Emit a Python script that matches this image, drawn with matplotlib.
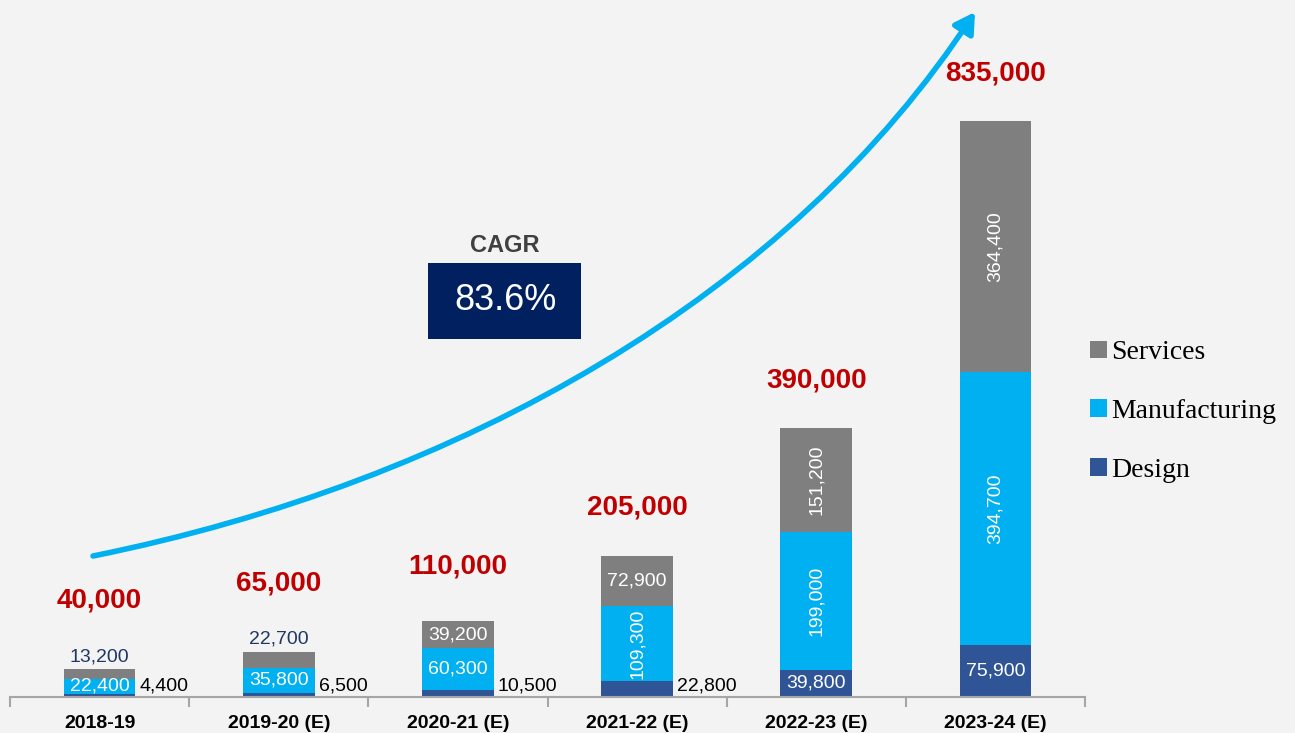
import numpy as np
import matplotlib
matplotlib.use("Agg")
import matplotlib.pyplot as plt
from matplotlib.patches import FancyArrowPatch, Rectangle
from matplotlib.path import Path

years = ["2018-19", "2019-20 (E)", "2020-21 (E)", "2021-22 (E)", "2022-23 (E)", "2023-24 (E)"]
design = [4400, 6500, 10500, 22800, 39800, 75900]
manufacturing = [22400, 35800, 60300, 109300, 199000, 394700]
services = [13200, 22700, 39200, 72900, 151200, 364400]
cagr = "83.6%"

c_serv = "#7f7f7f"
c_manu = "#00b0f0"
c_des = "#2f5597"

plt.rcParams["font.family"] = ["Liberation Sans", "DejaVu Sans"]

W, H = 1295, 733
fig = plt.figure(figsize=(W / 100, H / 100), dpi=100)
fig.patch.set_facecolor("#f3f3f3")

ax = fig.add_axes([10 / W, 36 / H, 1075 / W, 697 / H])
ax.set_facecolor("none")

x = np.arange(len(years))
design = np.array(design)
manufacturing = np.array(manufacturing)
services = np.array(services)
totals = design + manufacturing + services
bw = 0.4

b1 = ax.bar(x, design, bw, color=c_des, label="Design")
b2 = ax.bar(x, manufacturing, bw, bottom=design, color=c_manu, label="Manufacturing")
b3 = ax.bar(x, services, bw, bottom=design + manufacturing, color=c_serv, label="Services")

ax.set_xlim(-0.5, len(years) - 0.5)
ax.set_ylim(0, 1010000)

# segment labels
for i in range(len(years)):
    d, m, s = design[i], manufacturing[i], services[i]
    # design
    if d < 30000:
        ax.annotate(f"{d:,}", (x[i] + bw / 2, 0), xytext=(3, 2), textcoords="offset points",
                    ha="left", va="bottom", fontsize=14, color="black")
    else:
        ax.text(x[i], d / 2, f"{d:,}", ha="center", va="center", fontsize=14, color="white")
    # manufacturing
    rot = 90 if m > 100000 else 0
    ax.text(x[i], d + m / 2, f"{m:,}", ha="center", va="center", fontsize=14,
            color="white", rotation=rot)
    # services
    if s < 30000:
        ax.annotate(f"{s:,}", (x[i], totals[i]), xytext=(0, 3), textcoords="offset points",
                    ha="center", va="bottom", fontsize=14, color="#1f3864")
    else:
        rot = 90 if s > 100000 else 0
        ax.text(x[i], d + m + s / 2, f"{s:,}", ha="center", va="center", fontsize=14,
                color="white", rotation=rot)
    # total
    off = 40 if s < 30000 else (30 if totals[i] < 150000 else 25)
    ax.annotate(f"{totals[i]:,}", (x[i], totals[i]), xytext=(0, off), textcoords="offset points",
                ha="center", va="bottom", fontsize=20, fontweight="bold", color="#c00000")

# axes styling
for sp in ["top", "right", "left"]:
    ax.spines[sp].set_visible(False)
ax.spines["bottom"].set_color("#a6a6a6")
ax.spines["bottom"].set_linewidth(1.5)
ax.set_yticks([])
ax.set_xticks(x)
ax.set_xticklabels(years, fontsize=14, fontweight="bold")
ax.tick_params(axis="x", which="major", length=0, pad=13)
ax.set_xticks(np.arange(-0.5, len(years)), minor=True)
ax.tick_params(axis="x", which="minor", length=7, width=1.5, color="#a6a6a6")

# legend
ax.legend(handles=[b3, b2, b1], loc="upper left", bbox_to_anchor=(1069 / 1075, 368 / 697),
          frameon=False, prop={"family": "Liberation Serif", "size": 20},
          handlelength=0.6, handleheight=0.6, handletextpad=0.15, labelspacing=1.22,
          borderaxespad=0)

# growth arrow
def fp(px, py):
    return (px / W, 1 - py / H)

verts = [fp(93, 556), fp(460, 482), fp(790, 295), fp(975, 12)]
path = Path(verts, [Path.MOVETO, Path.CURVE4, Path.CURVE4, Path.CURVE4])
arrow = FancyArrowPatch(path=path, arrowstyle="-|>,head_length=12,head_width=7",
                        color=c_manu, lw=4, transform=fig.transFigure, zorder=5)
fig.patches.append(arrow)

# CAGR box
fig.text(505 / W, 1 - 245 / H, "CAGR", ha="center", va="center", fontsize=17,
         fontweight="bold", color="#404040")
box = Rectangle(fp(428, 339), 153 / W, 76 / H, transform=fig.transFigure,
                facecolor="#002060", edgecolor="none")
fig.patches.append(box)
fig.text(505 / W, 1 - 301 / H, cagr, ha="center", va="center", fontsize=26, color="white")

fig.savefig("out.png", dpi=100, facecolor=fig.get_facecolor())
